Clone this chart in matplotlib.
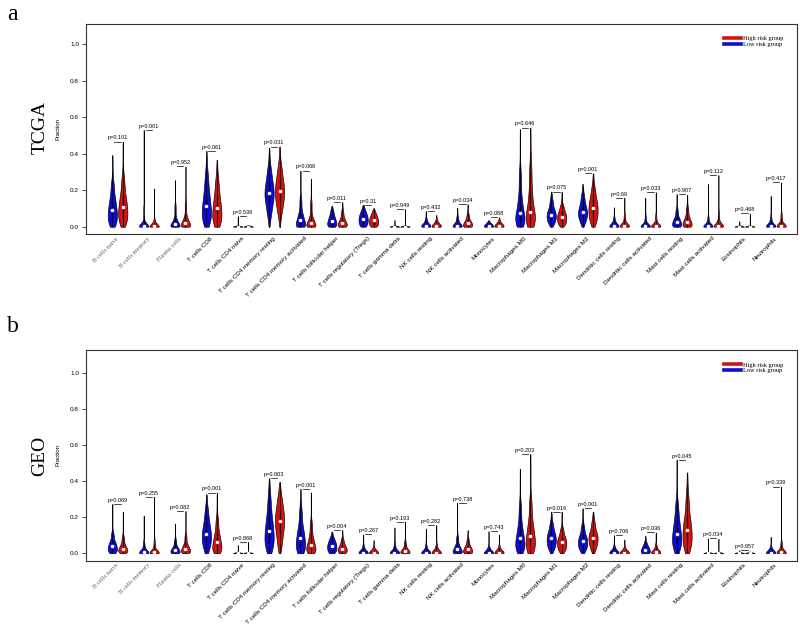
import math
import numpy as np
import matplotlib
matplotlib.use('Agg')
import matplotlib.pyplot as plt
from matplotlib.lines import Line2D

cell_types = ['B cells naive', 'B cells memory', 'Plasma cells', 'T cells CD8',
              'T cells CD4 naive', 'T cells CD4 memory resting',
              'T cells CD4 memory activated', 'T cells follicular helper',
              'T cells regulatory (Tregs)', 'T cells gamma delta', 'NK cells resting',
              'NK cells activated', 'Monocytes', 'Macrophages M0', 'Macrophages M1',
              'Macrophages M2', 'Dendritic cells resting', 'Dendritic cells activated',
              'Mast cells resting', 'Mast cells activated', 'Eosinophils', 'Neutrophils']

# quantiles: min, p05, q1, median, q3, p95, max
probs = [0.0, 0.05, 0.25, 0.5, 0.75, 0.95, 1.0]

tcga_low = [
    [0, 0.01, 0.045, 0.092, 0.15, 0.25, 0.392],
    [0, 0, 0, 0.005, 0.025, 0.12, 0.53],
    [0, 0, 0.004, 0.016, 0.045, 0.13, 0.255],
    [0, 0.015, 0.06, 0.113, 0.19, 0.3, 0.415],
    [0, 0, 0, 0, 0, 0, 0.058],
    [0, 0.06, 0.135, 0.187, 0.245, 0.33, 0.433],
    [0, 0, 0.008, 0.035, 0.075, 0.17, 0.307],
    [0, 0, 0.012, 0.031, 0.055, 0.09, 0.113],
    [0, 0.003, 0.022, 0.044, 0.066, 0.095, 0.119],
    [0, 0, 0, 0, 0, 0, 0.037],
    [0, 0, 0, 0.004, 0.015, 0.045, 0.086],
    [0, 0, 0, 0.005, 0.02, 0.06, 0.104],
    [0, 0, 0, 0.002, 0.008, 0.02, 0.035],
    [0, 0.008, 0.035, 0.073, 0.16, 0.32, 0.534],
    [0, 0.015, 0.04, 0.066, 0.095, 0.15, 0.192],
    [0, 0.02, 0.055, 0.082, 0.12, 0.18, 0.234],
    [0, 0, 0, 0.004, 0.015, 0.05, 0.106],
    [0, 0, 0, 0.003, 0.012, 0.06, 0.159],
    [0, 0, 0.01, 0.027, 0.05, 0.1, 0.179],
    [0, 0, 0, 0.003, 0.012, 0.06, 0.234],
    [0, 0, 0, 0, 0, 0, 0.03],
    [0, 0, 0, 0.004, 0.015, 0.06, 0.168],
]
tcga_high = [
    [0, 0.015, 0.055, 0.106, 0.17, 0.28, 0.466],
    [0, 0, 0, 0.002, 0.008, 0.04, 0.21],
    [0, 0, 0.006, 0.022, 0.055, 0.15, 0.33],
    [0, 0.012, 0.05, 0.102, 0.17, 0.27, 0.366],
    [0, 0, 0, 0, 0, 0, 0.01],
    [0, 0.07, 0.14, 0.196, 0.255, 0.34, 0.439],
    [0, 0, 0.005, 0.022, 0.055, 0.15, 0.263],
    [0, 0, 0.007, 0.022, 0.045, 0.09, 0.134],
    [0, 0.002, 0.016, 0.035, 0.055, 0.08, 0.1],
    [0, 0, 0, 0, 0, 0, 0.097],
    [0, 0, 0, 0.003, 0.012, 0.035, 0.064],
    [0, 0, 0.004, 0.018, 0.035, 0.075, 0.123],
    [0, 0, 0, 0.003, 0.01, 0.028, 0.051],
    [0, 0.01, 0.04, 0.08, 0.19, 0.36, 0.543],
    [0, 0.01, 0.03, 0.055, 0.08, 0.12, 0.192],
    [0, 0.02, 0.06, 0.104, 0.15, 0.22, 0.292],
    [0, 0, 0, 0.005, 0.02, 0.07, 0.159],
    [0, 0, 0, 0.004, 0.015, 0.07, 0.189],
    [0, 0, 0.01, 0.027, 0.055, 0.11, 0.174],
    [0, 0, 0, 0.006, 0.025, 0.09, 0.283],
    [0, 0, 0, 0, 0, 0, 0.073],
    [0, 0, 0, 0.005, 0.02, 0.08, 0.243],
]
tcga_p = ['0.101', '0.001', '0.952', '0.061', '0.539', '0.031', '0.066', '0.011',
          '0.31', '0.949', '0.432', '0.034', '0.088', '0.646', '0.075', '0.001',
          '0.69', '0.033', '0.907', '0.112', '0.468', '0.417']

geo_low = [
    [0, 0.003, 0.018, 0.039, 0.065, 0.12, 0.273],
    [0, 0, 0, 0.006, 0.02, 0.07, 0.208],
    [0, 0, 0.004, 0.017, 0.035, 0.08, 0.165],
    [0, 0.02, 0.065, 0.109, 0.165, 0.25, 0.326],
    [0, 0, 0, 0, 0, 0, 0.045],
    [0, 0.02, 0.065, 0.124, 0.2, 0.32, 0.415],
    [0, 0.005, 0.035, 0.082, 0.14, 0.25, 0.356],
    [0, 0.003, 0.02, 0.041, 0.062, 0.09, 0.119],
    [0, 0, 0, 0.003, 0.012, 0.045, 0.104],
    [0, 0, 0, 0.004, 0.015, 0.06, 0.143],
    [0, 0, 0, 0.003, 0.012, 0.05, 0.137],
    [0, 0, 0.006, 0.022, 0.045, 0.1, 0.28],
    [0, 0, 0, 0.003, 0.01, 0.04, 0.122],
    [0, 0.01, 0.04, 0.082, 0.15, 0.28, 0.467],
    [0, 0.02, 0.05, 0.082, 0.115, 0.17, 0.23],
    [0, 0.015, 0.04, 0.069, 0.1, 0.16, 0.249],
    [0, 0, 0, 0.003, 0.012, 0.04, 0.1],
    [0, 0, 0.005, 0.02, 0.035, 0.06, 0.096],
    [0, 0.02, 0.06, 0.109, 0.18, 0.29, 0.518],
    [0, 0, 0, 0, 0, 0, 0.082],
    [0, 0, 0, 0, 0, 0, 0.017],
    [0, 0, 0, 0.003, 0.01, 0.035, 0.091],
]
geo_high = [
    [0, 0.002, 0.012, 0.026, 0.05, 0.1, 0.23],
    [0, 0, 0, 0.006, 0.02, 0.08, 0.313],
    [0, 0.001, 0.01, 0.026, 0.05, 0.11, 0.234],
    [0, 0.005, 0.025, 0.06, 0.11, 0.2, 0.336],
    [0, 0, 0, 0, 0, 0, 0.063],
    [0, 0.04, 0.12, 0.18, 0.24, 0.32, 0.393],
    [0, 0.002, 0.018, 0.045, 0.09, 0.18, 0.336],
    [0, 0.001, 0.012, 0.026, 0.045, 0.08, 0.128],
    [0, 0, 0, 0.002, 0.008, 0.03, 0.072],
    [0, 0, 0.002, 0.01, 0.025, 0.07, 0.174],
    [0, 0, 0, 0.004, 0.015, 0.05, 0.156],
    [0, 0, 0.006, 0.022, 0.04, 0.08, 0.128],
    [0, 0, 0, 0.003, 0.012, 0.04, 0.104],
    [0, 0.01, 0.045, 0.096, 0.17, 0.31, 0.549],
    [0, 0.012, 0.035, 0.063, 0.09, 0.14, 0.23],
    [0, 0.02, 0.055, 0.087, 0.12, 0.18, 0.23],
    [0, 0, 0, 0.002, 0.008, 0.03, 0.076],
    [0, 0, 0, 0.005, 0.015, 0.05, 0.115],
    [0, 0.02, 0.07, 0.128, 0.2, 0.33, 0.447],
    [0, 0, 0, 0, 0, 0, 0.08],
    [0, 0, 0, 0, 0, 0, 0.01],
    [0, 0, 0, 0.005, 0.02, 0.07, 0.369],
]
geo_p = ['0.069', '0.255', '0.082', '0.001', '0.868', '0.003', '0.001', '0.004',
         '0.267', '0.193', '0.282', '0.738', '0.743', '0.203', '0.016', '0.001',
         '0.706', '0.036', '0.045', '0.034', '0.957', '0.339']

LOW_COL = '#0c0cd4'
HIGH_COL = '#d41212'
SANS = 'Liberation Sans'
SERIF = 'Liberation Serif'

phi = np.vectorize(lambda z: 0.5 * (1 + math.erf(z / math.sqrt(2))))


def violin_profile(q):
    # density built from the quantiles, smoothed with a gaussian kernel,
    # trimmed to the data range like vioplot does
    q = np.asarray(q, dtype=float)
    if q[4] == 0:
        bw = 0.004
    else:
        bw = max(0.012, 0.3 * (q[4] - q[2]))
    y = np.linspace(q[0], q[-1], 300)
    d = np.zeros_like(y)
    for a, b, m in zip(q[:-1], q[1:], np.diff(probs)):
        if b - a < 1e-4:
            d += m * np.exp(-0.5 * ((y - a) / bw) ** 2) / (bw * np.sqrt(2 * np.pi))
        else:
            d += m * (phi((b - y) / bw) - phi((a - y) / bw)) / (b - a)
    return y, d / d.max()


def draw_violin(ax, x, q, col):
    y, d = violin_profile(q)
    w = 0.44
    ax.fill_betweenx(y, x - w * d, x + w * d, facecolor=col, edgecolor='black', lw=0.45, zorder=2)
    iqr = q[4] - q[2]
    lo = max(q[0], q[2] - 1.5 * iqr)
    hi = min(q[-1], q[4] + 1.5 * iqr)
    ax.plot([x, x], [lo, hi], color='black', lw=0.5, zorder=3)
    ax.plot([x, x], [q[2], q[4]], color='black', lw=0.9, zorder=3)
    ax.plot(x, q[3], 'o', color='white', ms=2.6, mec='none', zorder=4)


def draw_panel(ax, low, high, pvals, ylims):
    for i in range(len(cell_types)):
        draw_violin(ax, 3 * i, low[i], LOW_COL)
        draw_violin(ax, 3 * i + 1, high[i], HIGH_COL)
        mx = max(low[i][-1], high[i][-1])
        ax.plot([3 * i + 0.2, 3 * i + 0.8], [mx, mx], color='black', lw=0.5)
        ax.text(3 * i + 0.5, mx + 0.02, 'p=' + pvals[i], ha='center', va='center',
                fontsize=4, family=SANS)
        if i < 3:
            ax.text(3 * i + 0.55, -0.06, cell_types[i], rotation=45, ha='right', va='center',
                    rotation_mode='anchor', fontsize=4.7, family=SERIF, color='#666666')
        else:
            ax.text(3 * i + 0.55, -0.06, cell_types[i], rotation=45, ha='right', va='center',
                    rotation_mode='anchor', fontsize=4.5, family=SANS, color='black')
    ax.set_xlim(-2.52, 65.52)
    ax.set_ylim(*ylims)
    ax.set_xticks([])
    ax.set_yticks([0, 0.2, 0.4, 0.6, 0.8, 1.0])
    ax.set_yticklabels(['0.0', '0.2', '0.4', '0.6', '0.8', '1.0'], family=SANS)
    ax.tick_params(axis='y', labelsize=4.6, length=3, width=0.5, pad=2)
    for s in ax.spines.values():
        s.set_color('#333333')
        s.set_linewidth(0.8)
    ax.set_ylabel('Fraction', fontsize=4.4, family=SANS)
    ax.yaxis.set_label_coords(-26 / 711, 0.5)
    handles = [Line2D([], [], color=HIGH_COL, lw=2.6), Line2D([], [], color=LOW_COL, lw=2.6)]
    ax.legend(handles, ['High risk group', 'Low risk group'], loc='upper right',
              bbox_to_anchor=(0.984, 0.955), borderaxespad=0, frameon=False,
              prop={'family': SERIF, 'size': 4.6}, handlelength=2.6,
              handletextpad=0.3, labelspacing=0.05)


fig = plt.figure(figsize=(8, 6.27), dpi=100)
ax_a = fig.add_axes([86 / 800, 1 - 234 / 627, 711 / 800, 210 / 627])
ax_b = fig.add_axes([86 / 800, 1 - 561 / 627, 711 / 800, 211 / 627])

draw_panel(ax_a, tcga_low, tcga_high, tcga_p, (-0.04, 1.11))
draw_panel(ax_b, geo_low, geo_high, geo_p, (-0.043, 1.125))

fig.text(7 / 800, 1 - 20 / 627, 'a', fontsize=17, family=SERIF, va='baseline')
fig.text(7 / 800, 1 - 332 / 627, 'b', fontsize=17, family=SERIF, va='baseline')
fig.text(40 / 800, 1 - 127 / 627, 'TCGA', fontsize=14, family=SERIF, rotation=90,
         ha='center', va='center')
fig.text(40 / 800, 1 - 456 / 627, 'GEO', fontsize=14, family=SERIF, rotation=90,
         ha='center', va='center')

fig.savefig('out.png', dpi=100)
